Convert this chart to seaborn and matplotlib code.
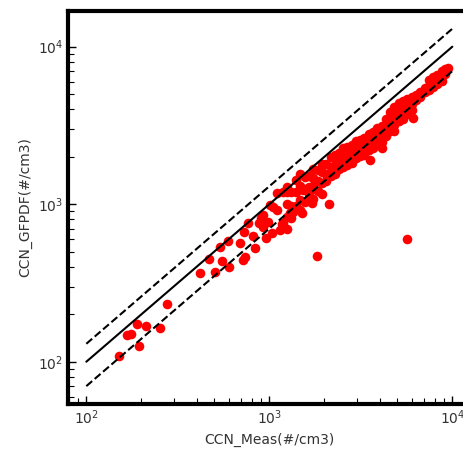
import matplotlib
matplotlib.use("Agg")
from matplotlib import pyplot as plt
import seaborn as sns
import pandas as pd

# CCN measured vs CCN from GFPDF (#/cm3), values read off the scatter
# sparse low-concentration points and outliers
meas_sparse = [150, 167, 176, 190, 213, 195, 254, 277,
               420, 470, 507, 554, 540, 604, 597, 694, 721, 739, 730, 768,
               818, 838, 882, 904, 963, 927, 987, 1039, 1052, 1106, 1148, 1178,
               1302, 1515, 1718, 1830, 2128, 5680,
               927, 1013, 1102, 1193, 1193, 1248, 1352, 1534, 1784, 1250,
               4129, 3564, 6121]
gfpdf_sparse = [109, 148, 150, 173, 168, 126, 164, 232,
                366, 449, 371, 436, 535, 399, 584, 567, 442, 460, 663, 756,
                626, 525, 756, 812, 610, 717, 771, 657, 960, 919, 686, 749,
                879, 879, 1018, 469, 1003, 601,
                854, 988, 1173, 1200, 760, 1292, 896, 1231, 1390, 700,
                2264, 1908, 3511]

# dense band from ~1e3 to ~1e4
meas_band = [1250, 1250, 1250, 1320, 1320, 1320, 1400, 1400, 1400,
             1480, 1480, 1480, 1480, 1560, 1560, 1560, 1650, 1650, 1650,
             1740, 1740, 1740, 1740, 1840, 1840, 1840, 1940, 1940, 1940, 1940,
             2050, 2050, 2050, 2160, 2160, 2160, 2280, 2280, 2280,
             2400, 2400, 2400, 2530, 2530, 2530, 2670, 2670, 2670,
             2820, 2820, 2820, 2980, 2980, 2980, 3140, 3140, 3140,
             3310, 3310, 3310, 3500, 3500, 3500, 3690, 3690, 3690,
             3900, 3900, 3900, 4110, 4110, 4110, 4340, 4340, 4340,
             4580, 4580, 4580, 4830, 4830, 4830, 4830, 5100, 5100, 5100,
             5380, 5380, 5380, 5680, 5680, 5680, 6000, 6000, 6000,
             6330, 6330, 6680, 6680, 7050, 7050, 7440, 7440, 7440,
             7850, 7850, 7850, 8280, 8280, 8280, 8740, 8740, 8740,
             9150, 9150, 9450]
gfpdf_band = [1200, 1000, 825, 1188, 977, 818, 1428, 1190, 980,
              1554, 1302, 1066, 918, 1482, 1248, 1030, 1518, 1287, 1155,
              1670, 1462, 1253, 1079, 1656, 1398, 1214, 1804, 1591, 1358, 1164,
              1804, 1558, 1394, 1987, 1728, 1512, 2052, 1778, 1550,
              2112, 1920, 1680, 2277, 1973, 1720, 2296, 2029, 1762,
              2369, 2087, 1833, 2533, 2265, 1967, 2575, 2261, 2010,
              2648, 2317, 2052, 2800, 2485, 2205, 2878, 2583, 2288,
              3042, 2691, 2379, 3124, 2795, 2466, 3472, 3038, 2691,
              3847, 3389, 2931, 4154, 3671, 3188, 2898, 4386, 3876, 3366,
              4519, 3981, 3497, 4658, 4203, 3749, 4800, 4320, 3960,
              4937, 4558, 5144, 4810, 5499, 5147, 6101, 5654, 5282,
              6437, 5966, 5574, 6624, 6210, 5796, 6992, 6468, 6031,
              7229, 6680, 7277]

# 1:1 line and +/-30% lines
line_x = [100, 10000]
line_1to1 = [100, 10000]
line_up = [130, 13000]
line_low = [70, 7000]

sns.set_style("white")
plt.rcParams['font.family'] = ['DejaVu Sans']
text_color = '0.2'

df = pd.DataFrame({'meas': meas_sparse + meas_band,
                   'gfpdf': gfpdf_sparse + gfpdf_band})

fig = plt.figure(figsize=(4.64, 4.55), dpi=100)
ax = fig.add_axes([0.1466, 0.1121, 0.8677, 0.864])

sns.scatterplot(data=df, x='meas', y='gfpdf', color='red', s=48, linewidth=0, ax=ax)
ax.plot(line_x, line_1to1, 'k-', lw=1.5)
ax.plot(line_x, line_up, 'k--', lw=1.5)
ax.plot(line_x, line_low, 'k--', lw=1.5)

ax.set_xscale('log')
ax.set_yscale('log')

for s in ax.spines.values():
    s.set_linewidth(3)
    s.set_color('black')

ax.tick_params(which='both', direction='in', bottom=True, left=True, top=False, right=False,
               labelsize=10, labelcolor=text_color, color='black')
ax.tick_params(which='major', length=6, width=1)
ax.tick_params(which='minor', length=4, width=0.8)

ax.set_xlabel('CCN_Meas(#/cm3)', fontsize=10, color=text_color)
ax.set_ylabel('CCN_GFPDF(#/cm3)', fontsize=10, color=text_color)

fig.savefig('out.png', dpi=100)
